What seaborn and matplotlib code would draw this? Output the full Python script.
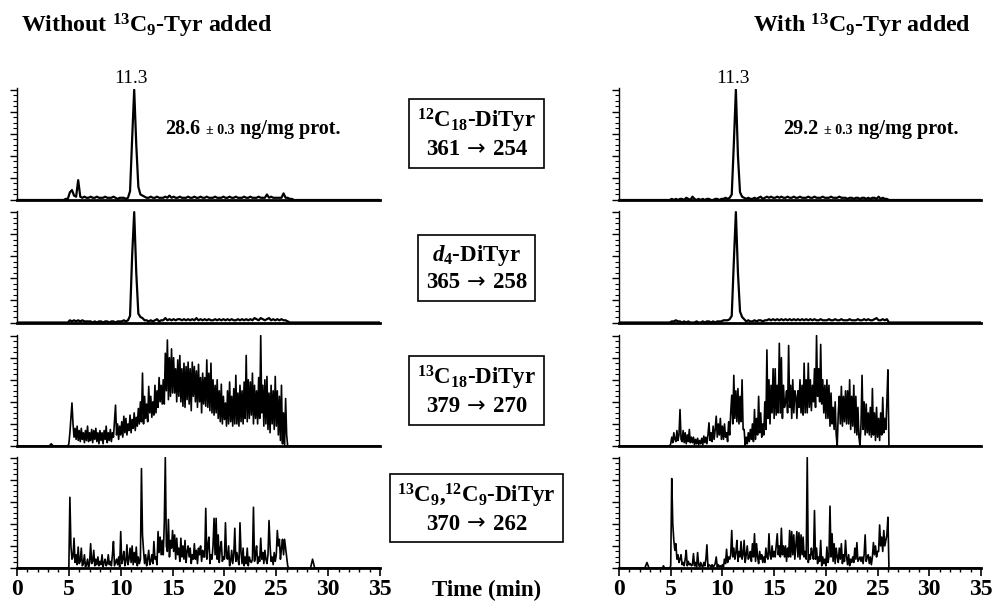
import numpy as np
import matplotlib
matplotlib.use("Agg")
import matplotlib.pyplot as plt
import seaborn as sns
from matplotlib.ticker import MultipleLocator
from matplotlib.offsetbox import TextArea, HPacker, VPacker, AnnotationBbox

# ---------------- data (relative intensity, % of panel height) ----------------
# rows 1-2 sampled every 0.2 min from 4.1 min; rows 3-4 every 0.1 min from 4.1 min
T_START = 4.1
T_STEP = 0.2
T_STEP_FINE = 0.1

# ---- Without 13C9-Tyr added ----
L1 = [0, 0, 0, 1, 1, 7, 9, 4, 3, 18,
      3, 2, 3, 2, 2, 3, 2, 2, 3, 2,
      2, 2, 3, 2, 2, 2, 3, 2, 1, 2,
      2, 2, 1, 2, 8, 55, 100, 50, 12, 5,
      4, 3, 2, 2, 3, 2, 2, 3, 2, 2,
      2, 3, 2, 4, 2, 3, 2, 2, 3, 2,
      2, 2, 3, 2, 2, 3, 2, 2, 3, 2,
      2, 3, 2, 2, 2, 3, 2, 2, 2, 3,
      2, 2, 3, 2, 2, 3, 2, 2, 2, 3,
      2, 2, 3, 2, 2, 2, 3, 2, 2, 2,
      5, 2, 3, 2, 2, 2, 2, 2, 6, 2,
      2, 1, 1, 0, 0]
L2 = [0, 0, 0, 0, 0, 2, 1, 2, 1, 2,
      1, 2, 1, 1, 1, 1, 0, 1, 0, 1,
      1, 0, 1, 1, 0, 1, 1, 0, 1, 1,
      1, 2, 1, 2, 6, 60, 100, 45, 8, 5,
      4, 2, 2, 1, 2, 1, 2, 3, 1, 2,
      2, 4, 2, 3, 2, 3, 2, 3, 3, 2,
      3, 2, 3, 2, 3, 2, 4, 2, 3, 2,
      3, 2, 3, 2, 2, 3, 2, 3, 2, 3,
      2, 3, 2, 3, 2, 2, 3, 2, 3, 2,
      3, 2, 3, 2, 4, 3, 2, 4, 3, 2,
      3, 4, 2, 3, 2, 3, 2, 3, 2, 2,
      1, 0, 0, 0, 0]
L3 = [0, 0, 0, 0, 0, 0, 0, 0, 0, 2,          # 4.1-5.0
      12, 25, 39, 20, 8, 16, 6, 18, 5, 14,   # 5.1-6.0
      4, 16, 6, 12, 3, 14, 5, 18, 4, 12,
      5, 15, 3, 14, 6, 16, 4, 12, 2, 14,
      5, 12, 2, 14, 6, 18, 3, 12, 5, 15,
      4, 12, 8, 22, 37, 10, 20, 6, 18, 10,
      22, 8, 27, 12, 25, 10, 20, 14, 28, 12,  # 10.1-11.0
      24, 16, 30, 14, 26, 18, 34, 20, 40, 22,
      66, 20, 45, 25, 38, 22, 54, 30, 45, 26,
      40, 28, 55, 30, 50, 35, 62, 40, 55, 38,
      60, 38, 84, 50, 96, 42, 80, 45, 88, 48,
      80, 48, 70, 40, 78, 45, 82, 40, 70, 36,  # 15.1-16.0
      75, 35, 72, 42, 76, 38, 70, 32, 76, 45,
      72, 40, 68, 35, 74, 40, 62, 30, 66, 38,
      62, 36, 78, 35, 66, 32, 75, 30, 60, 28,
      55, 30, 60, 25, 50, 22, 56, 20, 45, 24,
      39, 18, 50, 20, 58, 22, 45, 18, 52, 20,  # 20.1-21.0
      64, 20, 48, 18, 55, 22, 50, 20, 58, 25,
      82, 22, 60, 25, 58, 28, 66, 20, 55, 25,
      50, 20, 62, 25, 100, 30, 55, 18, 60, 20,
      63, 15, 48, 12, 55, 20, 50, 15, 63, 18,
      50, 10, 45, 5, 55, 2, 30, 0, 43, 10,    # 25.1-26.0
      0, 0, 0, 0, 0, 0, 0, 0, 0]
L4 = [0, 0, 0, 0, 0, 0, 0, 0, 0, 1,
      64, 20, 8, 10, 27, 5, 12, 3, 19, 4,
      6, 18, 2, 4, 12, 1, 3, 8, 1, 5,
      22, 4, 6, 16, 2, 8, 3, 10, 2, 6,
      3, 12, 1, 5, 8, 2, 4, 12, 3, 6,
      2, 12, 24, 2, 5, 8, 3, 10, 1, 33,
      4, 8, 15, 2, 6, 21, 3, 8, 18, 5,        # 10.1-11.0
      20, 3, 14, 5, 19, 2, 10, 4, 8, 90,
      30, 16, 4, 12, 2, 8, 16, 3, 6, 12,
      4, 24, 8, 10, 3, 33, 14, 28, 12, 25,
      12, 40, 100, 20, 15, 44, 10, 25, 18, 34,
      15, 30, 8, 27, 12, 18, 6, 27, 10, 20,   # 15.1-16.0
      8, 25, 5, 15, 20, 10, 18, 4, 12, 8,
      22, 8, 16, 4, 18, 12, 20, 6, 16, 10,
      10, 54, 8, 20, 28, 4, 12, 8, 20, 45,
      12, 45, 8, 30, 5, 18, 24, 6, 10, 8,
      41, 10, 8, 20, 2, 6, 16, 4, 12, 36,     # 20.1-21.0
      6, 14, 8, 3, 41, 14, 4, 18, 2, 10,
      4, 18, 2, 10, 6, 5, 8, 55, 6, 12,
      20, 4, 10, 6, 27, 8, 14, 4, 16, 8,
      4, 12, 43, 20, 6, 10, 3, 14, 6, 12,
      34, 20, 26, 8, 18, 26, 12, 26, 18, 10,  # 25.1-26.0
      2, 0, 0, 0, 0, 0, 0, 0, 0]

# ---- With 13C9-Tyr added ----
R1 = [0, 0, 0, 0, 0, 1, 0, 1, 0, 1,
      1, 0, 2, 1, 0, 3, 1, 0, 1, 0,
      1, 0, 1, 1, 0, 0, 1, 1, 0, 1,
      1, 2, 1, 2, 5, 50, 100, 40, 7, 3,
      2, 1, 2, 1, 1, 2, 1, 2, 3, 1,
      2, 3, 2, 3, 2, 2, 3, 2, 3, 2,
      2, 3, 2, 2, 3, 2, 2, 3, 2, 2,
      2, 3, 2, 2, 3, 2, 2, 2, 3, 2,
      2, 2, 3, 2, 2, 2, 3, 2, 2, 2,
      1, 2, 2, 1, 2, 2, 1, 2, 2, 1,
      2, 1, 2, 2, 1, 3, 1, 2, 1, 1,
      0, 0, 0, 0, 0]
R2 = [0, 0, 0, 0, 0, 1, 1, 2, 1, 1,
      0, 1, 0, 1, 0, 0, 0, 1, 0, 0,
      1, 0, 1, 1, 0, 1, 0, 1, 1, 1,
      2, 2, 2, 3, 6, 55, 100, 45, 10, 5,
      3, 1, 2, 1, 1, 2, 1, 2, 2, 1,
      2, 2, 3, 2, 3, 2, 3, 2, 3, 2,
      3, 2, 3, 2, 3, 2, 3, 2, 3, 2,
      3, 2, 3, 2, 3, 2, 2, 3, 2, 2,
      2, 3, 2, 2, 3, 2, 2, 3, 2, 2,
      2, 3, 2, 2, 2, 3, 2, 2, 3, 2,
      3, 2, 2, 3, 4, 2, 2, 3, 2, 3,
      0, 0, 0, 0, 0]
R3 = [0, 0, 0, 0, 0, 0, 0, 0, 0, 2,
      8, 3, 12, 6, 4, 14, 5, 10, 33, 6,
      4, 14, 3, 12, 2, 10, 4, 15, 3, 8,
      3, 8, 1, 6, 2, 7, 1, 5, 2, 7,
      1, 9, 3, 8, 2, 10, 21, 5, 12, 4,
      18, 6, 15, 27, 8, 20, 10, 25, 6, 18,
      6, 20, 8, 12, 4, 22, 10, 30, 46, 20,    # 10.1-11.0
      64, 25, 50, 22, 52, 20, 45, 22, 60, 15,
      15, 0, 8, 2, 12, 4, 15, 6, 20, 4,
      33, 6, 25, 10, 45, 12, 30, 8, 20, 10,
      40, 15, 87, 25, 60, 20, 55, 30, 70, 25,
      70, 28, 55, 30, 93, 30, 80, 25, 55, 35,  # 15.1-16.0
      40, 50, 30, 91, 35, 55, 25, 60, 30, 50,
      45, 25, 50, 35, 60, 30, 55, 28, 75, 30,
      60, 30, 75, 35, 60, 32, 55, 40, 70, 35,
      100, 45, 70, 40, 92, 38, 60, 30, 55, 25,
      60, 25, 55, 18, 48, 20, 35, 15, 40, 10,  # 20.1-21.0
      0, 30, 45, 20, 54, 18, 45, 22, 50, 20,
      50, 20, 60, 15, 45, 18, 55, 12, 45, 10,
      35, 8, 0, 20, 64, 15, 40, 10, 38, 12,
      30, 10, 35, 8, 52, 10, 30, 5, 35, 8,
      25, 5, 30, 10, 44, 12, 25, 15, 40, 69,   # 25.1-26.0
      0, 0, 0, 0, 0, 0, 0, 0, 0]
R4 = [0, 0, 2, 0, 0, 0, 0, 0, 0, 2,
      81, 40, 25, 16, 22, 8, 12, 5, 8, 12,
      3, 5, 2, 8, 16, 2, 6, 3, 4, 2,
      3, 13, 2, 5, 1, 14, 3, 1, 5, 2,
      1, 5, 2, 8, 21, 1, 3, 2, 1, 3,
      1, 2, 4, 10, 1, 3, 1, 2, 1, 3,
      1, 8, 4, 17, 5, 10, 8, 12, 34, 10,      # 10.1-11.0
      18, 8, 14, 25, 6, 15, 10, 24, 8, 12,
      25, 5, 12, 20, 8, 10, 15, 6, 22, 10,
      31, 6, 22, 10, 4, 15, 8, 12, 5, 10,
      5, 18, 10, 8, 31, 12, 8, 20, 10, 15,
      10, 20, 31, 12, 20, 10, 36, 12, 20, 10,  # 15.1-16.0
      20, 6, 18, 10, 34, 10, 33, 12, 30, 8,
      20, 33, 10, 32, 8, 30, 12, 28, 10, 15,
      8, 100, 5, 12, 8, 18, 12, 8, 52, 8,
      18, 4, 10, 6, 25, 2, 10, 4, 8, 2,
      19, 5, 10, 56, 10, 31, 6, 22, 4, 18,     # 20.1-21.0
      10, 5, 18, 8, 22, 4, 12, 6, 25, 10,
      3, 12, 2, 8, 5, 10, 5, 18, 8, 23,
      6, 8, 10, 6, 10, 4, 12, 30, 6, 10,
      12, 4, 10, 3, 10, 23, 12, 20, 10, 15,
      15, 39, 20, 28, 15, 34, 20, 25, 30, 46,  # 25.1-26.0
      0, 0, 0, 0, 0, 0, 0, 0, 0]

# isolated small blips outside the sampled window
L3_EXTRA_T, L3_EXTRA_V = [3.1, 3.3, 3.5], [0, 2, 0]
L4_EXTRA_T, L4_EXTRA_V = [28.3, 28.5, 28.7], [0, 8, 0]
R4_EXTRA_T, R4_EXTRA_V = [2.5, 2.7, 2.9], [0, 5, 0]

PEAK_LABEL = "11.3"
PEAK_LABEL_X = 11.0
XTICKS = [0, 5, 10, 15, 20, 25, 30, 35]
XTICK_LABELS = ["0", "5", "10", "15", "20", "25", "30", "35"]

COL_TITLES = [r"Without $^{13}$C$_{9}$-Tyr added", r"With $^{13}$C$_{9}$-Tyr added"]
CONC_MAIN = ["28.6", "29.2"]
CONC_ERR = ["± 0.3", "± 0.3"]
CONC_UNIT = "ng/mg prot."
ANALYTES = [r"$^{12}$C$_{18}$-DiTyr",
            r"$\mathit{d}_{\mathit{4}}$-DiTyr",
            r"$^{13}$C$_{18}$-DiTyr",
            r"$^{13}$C$_{9}$,$^{12}$C$_{9}$-DiTyr"]
PRECURSOR = ["361", "365", "379", "370"]
PRODUCT = ["254", "258", "270", "262"]
ARROW = "→"
XLABEL = "Time (min)"


def build(vals, step, extra_t=None, extra_v=None):
    grid = np.round(T_START + step * np.arange(len(vals)), 2)
    t = np.concatenate([[0.0], grid, [35.0]])
    v = np.concatenate([[0.0], np.asarray(vals, float), [0.0]])
    if extra_t is not None:
        t = np.concatenate([t, extra_t])
        v = np.concatenate([v, extra_v])
    order = np.argsort(t, kind="stable")
    return t[order], v[order]


traces = [
    [build(L1, T_STEP), build(R1, T_STEP)],
    [build(L2, T_STEP), build(R2, T_STEP)],
    [build(L3, T_STEP_FINE, L3_EXTRA_T, L3_EXTRA_V), build(R3, T_STEP_FINE)],
    [build(L4, T_STEP_FINE, L4_EXTRA_T, L4_EXTRA_V),
     build(R4, T_STEP_FINE, R4_EXTRA_T, R4_EXTRA_V)],
]

# ---------------- style ----------------
sns.set_theme(style="white")
SERIF = ["Liberation Serif", "DejaVu Serif"]
plt.rcParams["font.family"] = SERIF
plt.rcParams["mathtext.fontset"] = "custom"
plt.rcParams["mathtext.rm"] = "Liberation Serif:bold"
plt.rcParams["mathtext.bf"] = "Liberation Serif:bold"
plt.rcParams["mathtext.it"] = "Liberation Serif:italic:bold"
plt.rcParams["mathtext.default"] = "bf"

W, H = 992, 602
fig = plt.figure(figsize=(W / 100, H / 100), dpi=100)

col_x = [17, 619]
col_w = [363, 362]
row_bottom_px = [200, 322.5, 446, 568]
row_h_px = 111.5

for r in range(4):
    for c in range(2):
        ax = fig.add_axes([col_x[c] / W, 1 - row_bottom_px[r] / H, col_w[c] / W, row_h_px / H])
        t, v = traces[r][c]
        sns.lineplot(x=t, y=v, ax=ax, color="black",
                     linewidth=1.6 if r < 2 else 1.2,
                     sort=False, estimator=None)
        ax.set_xlim(0, 35)
        ax.set_ylim(0, 101)
        ax.set_facecolor("white")
        sns.despine(ax=ax)
        ax.spines["left"].set_color("black")
        ax.spines["left"].set_linewidth(1.0)
        ax.spines["bottom"].set_color("black")
        ax.spines["bottom"].set_linewidth(2.0)
        ax.yaxis.set_major_locator(MultipleLocator(20))
        ax.yaxis.set_minor_locator(MultipleLocator(5))
        ax.tick_params(axis="y", which="major", left=True, direction="out",
                       length=5, width=1.0, color="black", labelleft=False)
        ax.tick_params(axis="y", which="minor", left=True, direction="out",
                       length=3, width=0.8, color="black")
        ax.set_xlabel("")
        ax.set_ylabel("")
        if r == 3:
            ax.set_xticks(XTICKS)
            ax.set_xticklabels(XTICK_LABELS, fontsize=17, fontweight="bold")
            ax.xaxis.set_minor_locator(MultipleLocator(1))
            ax.tick_params(axis="x", which="major", bottom=True, direction="out",
                           length=6, width=1.2, color="black", pad=2, labelcolor="black")
            ax.tick_params(axis="x", which="minor", bottom=True, direction="out",
                           length=3, width=1.0, color="black")
        else:
            ax.tick_params(axis="x", which="both", bottom=False, labelbottom=False)
        if r == 0:
            ax.text(PEAK_LABEL_X, 106, PEAK_LABEL, ha="center", va="baseline",
                    fontsize=14, color="black", clip_on=False)
            pack = HPacker(children=[
                TextArea(CONC_MAIN[c], textprops=dict(fontsize=14.5, fontweight="bold", color="black")),
                TextArea(CONC_ERR[c], textprops=dict(fontsize=10, fontweight="bold", color="black")),
                TextArea(CONC_UNIT, textprops=dict(fontsize=14.5, fontweight="bold", color="black")),
            ], align="baseline", pad=0, sep=4)
            xfrac = [0.408, 0.453][c]
            ab = AnnotationBbox(pack, (xfrac, 0.64), xycoords="axes fraction",
                                box_alignment=(0, 0.5), frameon=False, pad=0)
            ax.add_artist(ab)

# column titles
fig.text(21 / W, 1 - 33 / H, COL_TITLES[0], ha="left", va="baseline",
         fontsize=17.2, fontweight="bold", color="black")
fig.text(971 / W, 1 - 33 / H, COL_TITLES[1], ha="right", va="baseline",
         fontsize=17.2, fontweight="bold", color="black")

# transition boxes
bold = dict(fontsize=16.5, fontweight="bold", color="black", family=SERIF)
box_y_px = [133.5, 268, 390.5, 508]
for name, pre, pro, yp in zip(ANALYTES, PRECURSOR, PRODUCT, box_y_px):
    line1 = TextArea(name, textprops=bold)
    line2 = HPacker(children=[
        TextArea(pre, textprops=bold),
        TextArea(ARROW, textprops=dict(fontsize=16, color="black", family="DejaVu Sans")),
        TextArea(pro, textprops=bold),
    ], align="baseline", pad=0, sep=5)
    box = VPacker(children=[line1, line2], align="center", pad=0, sep=3)
    ab = AnnotationBbox(box, (476.5 / W, 1 - yp / H), xycoords="figure fraction",
                        box_alignment=(0.5, 0.5), frameon=True, pad=0.5,
                        bboxprops=dict(boxstyle="square,pad=0.5", fc="white",
                                       ec="black", lw=1.2))
    fig.add_artist(ab)

fig.text(487 / W, 1 - 590 / H, XLABEL, ha="center", va="center",
         fontsize=16.5, fontweight="bold", color="black")

fig.savefig("out.png", dpi=100, facecolor="white")
